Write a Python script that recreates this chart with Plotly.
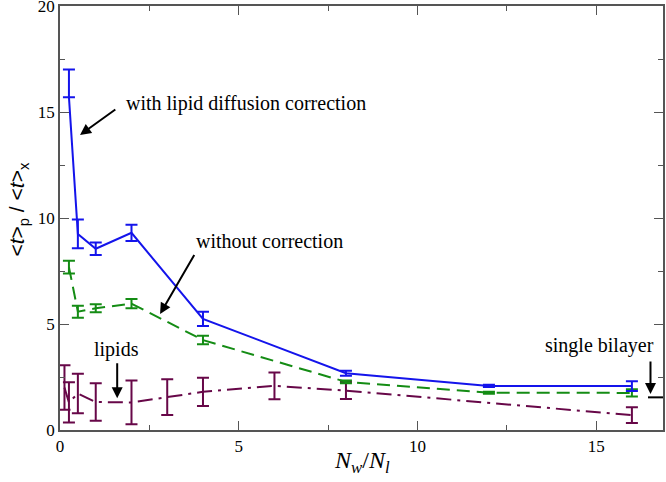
import plotly.graph_objects as go

# with lipid diffusion correction
x_corr = [0.25, 0.5, 1, 2, 4, 8, 12, 16]
y_corr = [15.7, 9.25, 8.55, 9.3, 5.24, 2.68, 2.08, 2.07]
e_corr_plus = [1.3, 0.68, 0.3, 0.38, 0.34, 0.12, 0.05, 0.23]
e_corr_minus = [0.0, 0.68, 0.3, 0.38, 0.34, 0.12, 0.05, 0.23]

# without correction
x_nocorr = [0.25, 0.5, 1, 2, 4, 8, 12, 16]
y_nocorr = [7.68, 5.58, 5.74, 5.96, 4.24, 2.27, 1.76, 1.75]
e_nocorr = [0.3, 0.28, 0.19, 0.22, 0.2, 0.07, 0.05, 0.17]

# lipids
x_lip = [0.125, 0.25, 0.5, 1, 2, 3, 4, 6, 8, 16]
y_lip = [2.0, 1.3, 1.72, 1.32, 1.3, 1.55, 1.8, 2.08, 1.86, 0.7]
e_lip = [1.05, 0.95, 0.93, 0.88, 1.03, 0.84, 0.67, 0.63, 0.4, 0.37]

# single bilayer reference
single_bilayer_x = [16.45, 17.0]
single_bilayer_y = [1.54, 1.54]

x_ticks = [0, 5, 10, 15]
y_ticks = [0, 5, 10, 15, 20]

BLUE = "rgb(20,20,235)"
GREEN = "rgb(20,140,20)"
MAROON = "rgb(103,7,72)"
SERIF = "Liberation Serif"
AXC = "#555555"

fig = go.Figure()
fig.add_trace(go.Scatter(
    x=x_lip, y=y_lip, mode="lines",
    line=dict(color=MAROON, width=2, dash="15px,6px,3px,6px"),
    error_y=dict(type="data", array=e_lip, color=MAROON, thickness=2, width=6),
))
fig.add_trace(go.Scatter(
    x=x_nocorr, y=y_nocorr, mode="lines",
    line=dict(color=GREEN, width=2, dash="13px,7px"),
    error_y=dict(type="data", array=e_nocorr, color=GREEN, thickness=2, width=6),
))
fig.add_trace(go.Scatter(
    x=x_corr, y=y_corr, mode="lines",
    line=dict(color=BLUE, width=2),
    error_y=dict(type="data", symmetric=False, array=e_corr_plus, arrayminus=e_corr_minus,
                 color=BLUE, thickness=2, width=6),
))
fig.add_trace(go.Scatter(
    x=single_bilayer_x, y=single_bilayer_y, mode="lines",
    line=dict(color="black", width=2),
))

ann_font = dict(family=SERIF, size=20, color="black")

def label(x, y, text):
    fig.add_annotation(x=x, y=y, xref="x", yref="y", text=text, showarrow=False,
                       xanchor="left", yanchor="middle", font=ann_font)

def arrow(x_head, y_head, x_tail, y_tail):
    fig.add_annotation(x=x_head, y=y_head, ax=x_tail, ay=y_tail, xref="x", yref="y",
                       axref="x", ayref="y", text="", showarrow=True, arrowhead=2,
                       arrowsize=1.1, arrowwidth=2, arrowcolor="black")

label(1.8, 15.4, "with lipid diffusion correction")
label(3.75, 8.9, "without correction")
label(0.9, 3.82, "lipids")
label(13.5, 4.0, "single bilayer")
arrow(0.56, 13.92, 1.59, 15.17)
arrow(2.8, 5.47, 3.78, 8.33)
arrow(1.6, 1.5, 1.6, 3.22)
arrow(16.52, 1.7, 16.52, 3.3)

# axis titles
fig.add_annotation(x=0.5, y=0, xref="paper", yref="paper", yshift=-15,
                   text="<i>N<sub>w</sub></i>/<i>N<sub>l</sub></i>", showarrow=False,
                   xanchor="center", yanchor="top",
                   font=dict(family=SERIF, size=24, color="black"))
fig.add_annotation(x=0, y=0.52, xref="paper", yref="paper", xshift=-42,
                   text="&lt;<i>t</i>&gt;<sub>p</sub> / &lt;<i>t</i>&gt;<sub>x</sub>",
                   showarrow=False, textangle=-90, xanchor="center", yanchor="middle",
                   font=dict(family="Liberation Sans", size=21, color="black"))

axis_common = dict(
    showline=True, linecolor=AXC, linewidth=1.5, mirror="ticks",
    ticks="inside", ticklen=9, tickwidth=1.2, tickcolor=AXC,
    showgrid=False, zeroline=False, automargin=False, ticklabeloverflow="allow",
    tickfont=dict(family=SERIF, size=17, color="black"),
)
minor = dict(dtick=2.5, ticks="inside", ticklen=5, tickcolor=AXC, tickwidth=1.2, showgrid=False)
fig.update_xaxes(range=[0, 16.87], tickvals=x_ticks, minor=minor, **axis_common)
fig.update_yaxes(range=[0, 20], tickvals=y_ticks, minor=minor, **axis_common)
fig.update_layout(
    width=666, height=482, showlegend=False,
    margin=dict(l=60, r=3, t=6, b=52),
    plot_bgcolor="white", paper_bgcolor="white",
)
fig.write_html("out.html", config={"displayModeBar": False},
               post_script="document.body.style.margin='0';document.body.style.overflow='hidden';")
